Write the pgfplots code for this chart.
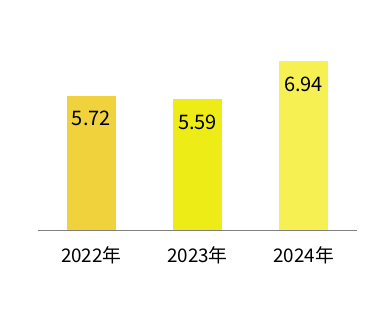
\documentclass[border=0pt]{standalone}
\usepackage{pgfplots}
\pgfplotsset{compat=1.18}
\usepackage{fontspec}
\setmainfont{Noto Sans CJK SC}
\definecolor{b1}{RGB}{240,210,60}
\definecolor{b2}{RGB}{238,236,22}
\definecolor{b3}{RGB}{246,240,82}
\definecolor{axgray}{RGB}{128,128,128}
\begin{document}
\begin{tikzpicture}[x=1bp,y=1bp]
\useasboundingbox (0,0) rectangle (381,318);
\begin{axis}[
  at={(38.3bp,87.7bp)}, anchor=south west,
  scale only axis, width=318.4bp, height=198.8bp,
  xmin=-0.5, xmax=2.5, ymin=0.95, ymax=8,
  axis x line=bottom, axis y line=none,
  x axis line style={-, draw=axgray, line width=0.9pt},
  xtick={0,1,2}, xticklabels={2022年,2023年,2024年},
  major tick length=0pt,
  xticklabel style={font=\fontsize{18.8bp}{22bp}\selectfont, anchor=center, yshift=-25.4bp, inner sep=0pt},
  ytick=\empty,
  bar width=48.5bp,
  nodes near coords,
  nodes near coords style={font=\fontsize{20bp}{23bp}\selectfont, anchor=center, yshift=-23bp, text=black, /pgf/number format/fixed, /pgf/number format/precision=2, /pgf/number format/fixed zerofill},
  point meta=explicit,
  /pgf/number format/assume math mode=true,
]
\addplot[ybar, draw=none, fill=b1] coordinates {(0,5.72) [5.72]};
\addplot[ybar, draw=none, fill=b2] coordinates {(1,5.59) [5.59]};
\addplot[ybar, draw=none, fill=b3] coordinates {(2,6.94) [6.94]};
\end{axis}
\end{tikzpicture}
\end{document}
